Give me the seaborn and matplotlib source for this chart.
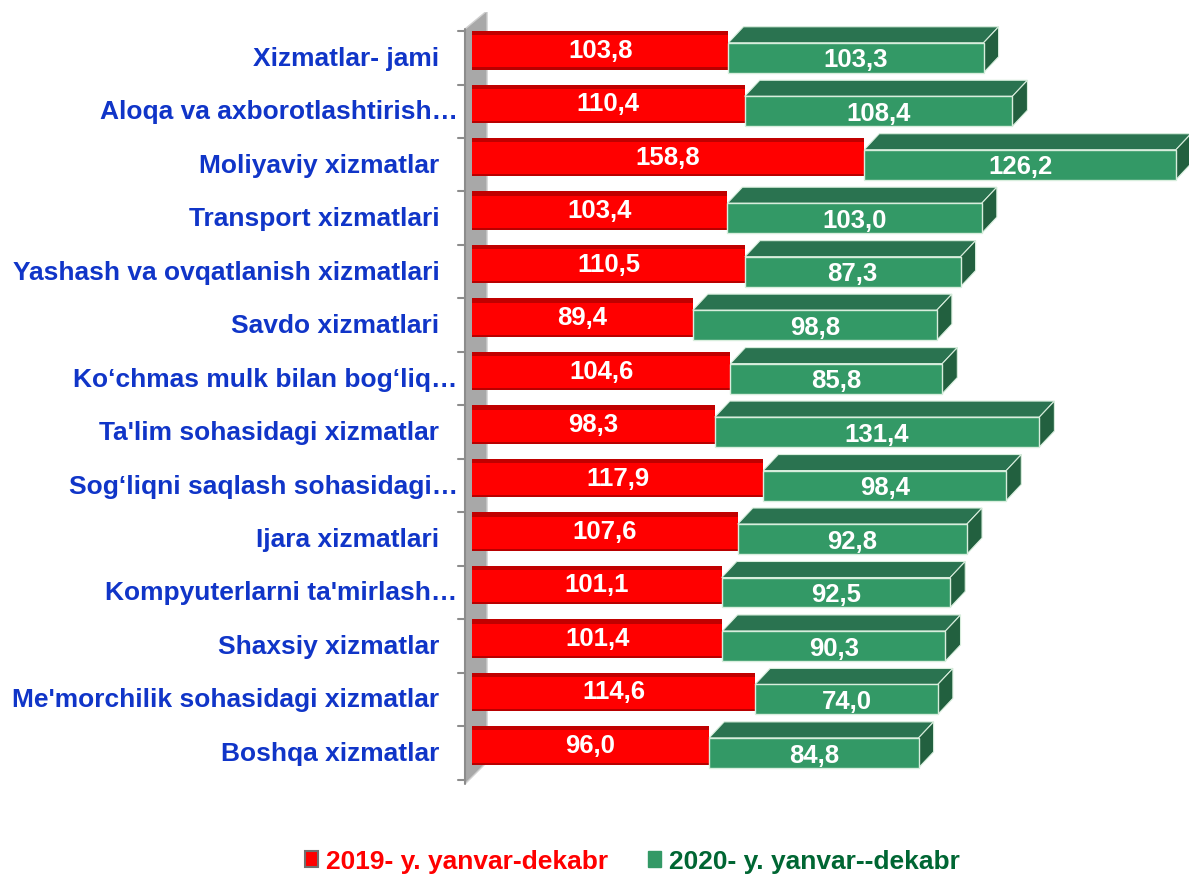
import matplotlib
matplotlib.use("Agg")
import matplotlib.pyplot as plt
from matplotlib.patches import Polygon, Patch
import seaborn as sns
import pandas as pd

categories = ["Xizmatlar- jami", "Aloqa va axborotlashtirish…", "Moliyaviy xizmatlar",
              "Transport xizmatlari", "Yashash va ovqatlanish xizmatlari", "Savdo xizmatlari",
              "Ko‘chmas mulk bilan bog‘liq…", "Ta'lim sohasidagi xizmatlar",
              "Sog‘liqni saqlash sohasidagi…", "Ijara xizmatlari", "Kompyuterlarni ta'mirlash…",
              "Shaxsiy xizmatlar", "Me'morchilik sohasidagi xizmatlar", "Boshqa xizmatlar"]
v2019 = [103.8, 110.4, 158.8, 103.4, 110.5, 89.4, 104.6, 98.3, 117.9, 107.6, 101.1, 101.4, 114.6, 96.0]
v2020 = [103.3, 108.4, 126.2, 103.0, 87.3, 98.8, 85.8, 131.4, 98.4, 92.8, 92.5, 90.3, 74.0, 84.8]
series = ["2019- y. yanvar-dekabr", "2020- y. yanvar--dekabr"]

df = pd.DataFrame({"cat": categories, "y19": v2019, "y20": v2020})
df["pos"] = range(len(df))

sns.set_style("white")
plt.rcParams['font.family'] = ['Liberation Sans', 'DejaVu Sans']

RED = "#FF0000"
RED_DARK = "#C00000"
GREEN = "#339966"
GREEN_TOP = "#2A7350"
GREEN_SIDE = "#22603F"
BLUE = "#1035C8"

fig = plt.figure(figsize=(11.89, 8.78), dpi=100)
ax = fig.add_axes([0.3845, 0.1048, 0.6155, 0.880])
ax.set_xlim(-6, 290.3)
ax.set_ylim(13.6, -0.85)
ax.axis("off")

# 3D depth of bars in data units
dx, dy = 6.1, 0.30

# grey wall on the left
ax.add_patch(Polygon([(-2.8, 13.58), (-2.8, -0.54), (6.1, -0.88), (6.1, 13.17)],
                     closed=True, facecolor="#A8A8A8", edgecolor="#D0D0D0", lw=1, zorder=0))
ax.plot([-2.8, -2.8], [-0.54, 13.58], color="#8C8C8C", lw=1.5, zorder=1)
for k in range(len(df) + 1):
    ax.plot([-5.6, -2.8], [k - 0.5, k - 0.5], color="#8C8C8C", lw=1.5, zorder=1, clip_on=False)

# red bars (2019)
ax.barh(df["pos"] - 0.14, df["y19"], height=0.72, color=RED, lw=0, zorder=2)
ax.barh(df["pos"] - 0.46, df["y19"], height=0.08, color=RED_DARK, lw=0, zorder=3)
ax.barh(df["pos"] + 0.20, df["y19"], height=0.04, color="#B80000", lw=0, zorder=3)

# green bars (2020), stacked on red
ax.barh(df["pos"], df["y20"], left=df["y19"], height=0.56, color=GREEN,
        edgecolor="#D8EEDD", lw=1, zorder=4)
for _, r in df.iterrows():
    x0, x1, y = r["y19"], r["y19"] + r["y20"], r["pos"]
    ax.add_patch(Polygon([(x0, y - 0.28), (x0 + dx, y - 0.28 - dy), (x1 + dx, y - 0.28 - dy), (x1, y - 0.28)],
                         closed=True, facecolor=GREEN_TOP, edgecolor="#D8EEDD", lw=0.8, zorder=3))
    ax.add_patch(Polygon([(x1, y - 0.28), (x1 + dx, y - 0.28 - dy), (x1 + dx, y + 0.28 - dy), (x1, y + 0.28)],
                         closed=True, facecolor=GREEN_SIDE, edgecolor="#D8EEDD", lw=0.8, zorder=3))
    ax.text(x0 / 2, y - 0.15, f"{r['y19']:.1f}".replace(".", ","), ha="center", va="center",
            color="white", fontsize=18.5, fontweight="bold", zorder=6)
    ax.text(x0 + r["y20"] / 2, y + 0.03, f"{r['y20']:.1f}".replace(".", ","), ha="center", va="center",
            color="white", fontsize=18.5, fontweight="bold", zorder=6)
    lx = -5.8 if r["cat"].endswith("…") else -13.2
    ax.text(lx, y, r["cat"], ha="right", va="center", color=BLUE,
            fontsize=19, fontweight="bold", clip_on=False)

handles = [Patch(facecolor=RED, edgecolor="#707070", lw=1.5), Patch(facecolor=GREEN, edgecolor=GREEN)]
leg = fig.legend(handles, series, loc="center", bbox_to_anchor=(0.532, 0.018), ncol=2,
                 frameon=False, handlelength=0.5, handleheight=0.6, handletextpad=0.3,
                 columnspacing=1.5,
                 prop={"family": ["Liberation Sans Narrow", "Liberation Sans"], "weight": "bold", "size": 19})
for t, c in zip(leg.get_texts(), [RED, "#006633"]):
    t.set_color(c)

fig.savefig("out.png", dpi=100)
